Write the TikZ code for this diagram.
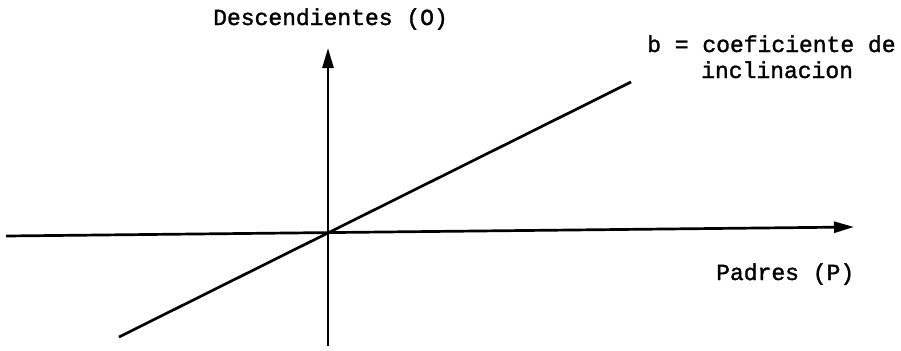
\documentclass[tikz,border=0pt]{standalone}
\usepackage{fontspec}
\usetikzlibrary{arrows.meta}
\newfontfamily\typewriter[FakeBold=1.5]{Liberation Mono}
\begin{document}
\begin{tikzpicture}[x=1bp,y=-1bp,
  axis/.style={line width=2.7bp,-{Triangle[length=20bp,width=11bp]}},
  lbl/.style={anchor=base west,inner sep=0pt,font=\typewriter\fontsize{23bp}{26bp}\selectfont}]
\useasboundingbox (0,0) rectangle (901,350);
\coordinate (hl) at (6,236);
\coordinate (hr) at (854,227);
\coordinate (vb) at (328,346);
\coordinate (vt) at (328,48);
\coordinate (dl) at (119,337);
\coordinate (dr) at (631,82);
\draw[axis] (hl) -- (hr);
\draw[axis] (vb) -- (vt);
\draw[line width=2.7bp] (dl) -- (dr);
\node[lbl] (desc) at (213,25) {Descendientes (O)};
\node[lbl] (coef) at (647,52) {b = coeficiente de};
\node[lbl] (incl) at (701,78) {inclinacion};
\node[lbl] (padres) at (716,280) {Padres (P)};
\end{tikzpicture}
\end{document}
